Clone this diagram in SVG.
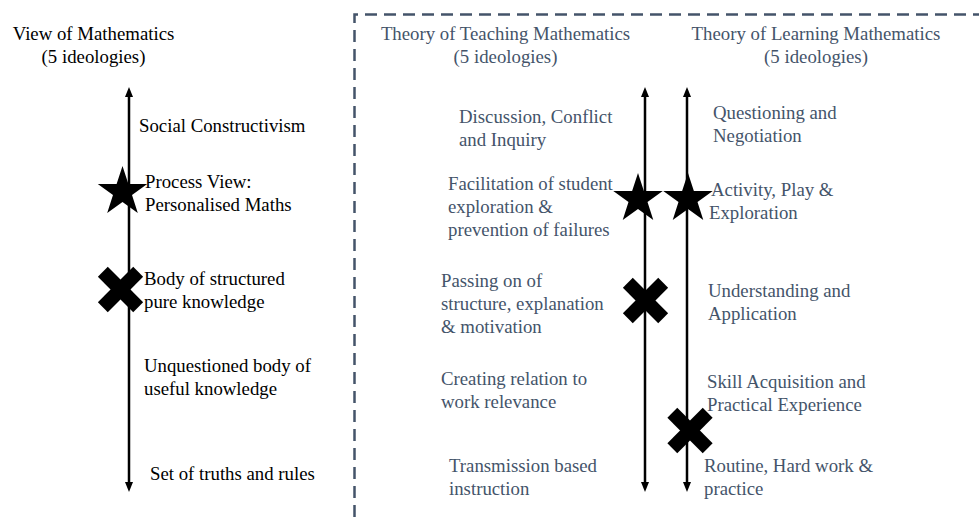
<svg xmlns="http://www.w3.org/2000/svg" xmlns:xlink="http://www.w3.org/1999/xlink" width="979" height="517" viewBox="0 0 979 517">
<style>
text{font-family:"Liberation Serif","Times New Roman",serif;font-size:18.8px}
.k{fill:#000}
.b{fill:#44546A}
.mid{text-anchor:middle}
.axis{stroke:#000;stroke-width:2.5;fill:none;marker-start:url(#ah);marker-end:url(#ah)}
.frame{stroke:#44546A;stroke-width:2.5;fill:none;stroke-dasharray:12 7}
</style>
<defs>
<marker id="ah" markerUnits="userSpaceOnUse" viewBox="0 0 10 8" markerWidth="10" markerHeight="8" refX="0" refY="4" orient="auto-start-reverse">
<path d="M0,0 L10,4 L0,8 z" fill="#000"/>
</marker>
<polygon id="star" points="0,-26 5.88,-8.09 24.73,-8.03 9.51,3.09 15.28,21.03 0,10 -15.28,21.03 -9.51,3.09 -24.73,-8.03 -5.88,-8.09" fill="#000"/>
<g id="cross" fill="#000">
<rect x="-25" y="-7" width="50" height="14" transform="rotate(45)"/>
<rect x="-25" y="-7" width="50" height="14" transform="rotate(-45)"/>
</g>
</defs>
<rect width="979" height="517" fill="#fff"/>
<path class="frame" d="M354.5,517 V14.5 H979"/>
<g id="connectors">
<line class="axis" x1="129" y1="97" x2="129" y2="482"/>
<line class="axis" x1="645" y1="97" x2="645" y2="482"/>
<line class="axis" x1="687" y1="97" x2="687" y2="482"/>
</g>
<g id="view-header">
<text class="k mid" x="93.5" y="40">View of Mathematics</text>
<text class="k mid" x="93.5" y="63">(5 ideologies)</text>
</g>
<g id="teaching-header">
<text class="b mid" x="505.5" y="40">Theory of Teaching Mathematics</text>
<text class="b mid" x="505.5" y="63">(5 ideologies)</text>
</g>
<g id="learning-header">
<text class="b mid" x="816" y="40">Theory of Learning Mathematics</text>
<text class="b mid" x="816" y="63">(5 ideologies)</text>
</g>
<g id="view-markers">
<use xlink:href="#star" x="122.5" y="192"/>
<use xlink:href="#cross" x="120.5" y="289.5"/>
</g>
<g id="teaching-markers">
<use xlink:href="#star" x="638" y="199"/>
<use xlink:href="#cross" x="645.5" y="300.5"/>
</g>
<g id="learning-markers">
<use xlink:href="#star" x="688" y="199"/>
<use xlink:href="#cross" x="690" y="430.5"/>
</g>
<g id="view-social"><text class="k" x="139" y="132">Social Constructivism</text></g>
<g id="view-process"><text class="k" x="145" y="188">Process View:</text><text class="k" x="145" y="211">Personalised Maths</text></g>
<g id="view-body"><text class="k" x="144" y="285">Body of structured</text><text class="k" x="144" y="308">pure knowledge</text></g>
<g id="view-unquestioned"><text class="k" x="144" y="372">Unquestioned body of</text><text class="k" x="144" y="395">useful knowledge</text></g>
<g id="view-truths"><text class="k" x="150" y="480">Set of truths and rules</text></g>
<g id="teach-discussion"><text class="b" x="459" y="123">Discussion, Conflict</text><text class="b" x="459" y="146">and Inquiry</text></g>
<g id="teach-facilitation"><text class="b" x="448" y="190">Facilitation of student</text><text class="b" x="448" y="213">exploration &amp;</text><text class="b" x="448" y="236">prevention of failures</text></g>
<g id="teach-passing"><text class="b" x="441" y="287">Passing on of</text><text class="b" x="441" y="310">structure, explanation</text><text class="b" x="441" y="333">&amp; motivation</text></g>
<g id="teach-creating"><text class="b" x="441" y="385">Creating relation to</text><text class="b" x="441" y="408">work relevance</text></g>
<g id="teach-transmission"><text class="b" x="449" y="472">Transmission based</text><text class="b" x="449" y="495">instruction</text></g>
<g id="learn-questioning"><text class="b" x="713" y="119">Questioning and</text><text class="b" x="713" y="142">Negotiation</text></g>
<g id="learn-activity"><text class="b" x="711" y="196">Activity, Play &amp;</text><text class="b" x="709" y="219">Exploration</text></g>
<g id="learn-understanding"><text class="b" x="708" y="297">Understanding and</text><text class="b" x="708" y="320">Application</text></g>
<g id="learn-skill"><text class="b" x="707" y="388">Skill Acquisition and</text><text class="b" x="707" y="411">Practical Experience</text></g>
<g id="learn-routine"><text class="b" x="704" y="472">Routine, Hard work &amp;</text><text class="b" x="704" y="495">practice</text></g>
</svg>
